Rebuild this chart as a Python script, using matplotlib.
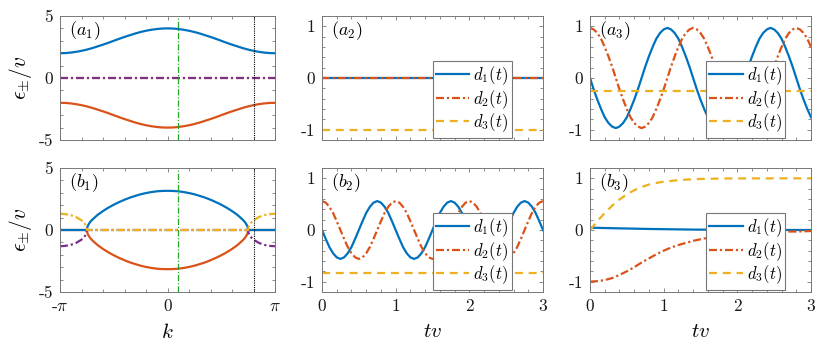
import numpy as np
import matplotlib
matplotlib.use("Agg")
import matplotlib.pyplot as plt
from matplotlib.ticker import MultipleLocator, FixedLocator, NullFormatter

plt.rcParams['font.family'] = ['cmr10', 'DejaVu Serif']
plt.rcParams['mathtext.fontset'] = 'cm'
plt.rcParams['axes.unicode_minus'] = False

# ---------------- data ----------------
# (a1) dispersion, k in units of pi
k_a = [-1.0, -0.95, -0.9, -0.85, -0.8, -0.75, -0.7, -0.65, -0.6, -0.55, -0.5, -0.45, -0.4, -0.35, -0.3,
       -0.25, -0.2, -0.15, -0.1, -0.05, 0.0, 0.05, 0.1, 0.15, 0.2, 0.25, 0.3, 0.35, 0.4, 0.45, 0.5,
       0.55, 0.6, 0.65, 0.7, 0.75, 0.8, 0.85, 0.9, 0.95, 1.0]
eps_plus_a = [2.00, 2.01, 2.05, 2.11, 2.19, 2.29, 2.41, 2.55, 2.69, 2.84, 3.00, 3.16, 3.31, 3.45, 3.59,
              3.71, 3.81, 3.89, 3.95, 3.99, 4.00, 3.99, 3.95, 3.89, 3.81, 3.71, 3.59, 3.45, 3.31, 3.16,
              3.00, 2.84, 2.69, 2.55, 2.41, 2.29, 2.19, 2.11, 2.05, 2.01, 2.00]
eps_minus_a = [-2.00, -2.01, -2.05, -2.11, -2.19, -2.29, -2.41, -2.55, -2.69, -2.84, -3.00, -3.16, -3.31,
               -3.45, -3.59, -3.71, -3.81, -3.89, -3.95, -3.99, -4.00, -3.99, -3.95, -3.89, -3.81, -3.71,
               -3.59, -3.45, -3.31, -3.16, -3.00, -2.84, -2.69, -2.55, -2.41, -2.29, -2.19, -2.11, -2.05,
               -2.01, -2.00]
im_a = [0.0] * 41

# (b1) dispersion with exceptional points, k in units of pi
k_b = [-1.0, -0.95, -0.9, -0.85, -0.8, -0.78, -0.77, -0.76, -0.755, -0.75, -0.745, -0.74, -0.73, -0.72,
       -0.7, -0.65, -0.6, -0.55, -0.5, -0.45, -0.4, -0.35, -0.3, -0.25, -0.2, -0.15, -0.1, -0.05, 0.0,
       0.05, 0.1, 0.15, 0.2, 0.25, 0.3, 0.35, 0.4, 0.45, 0.5, 0.55, 0.6, 0.65, 0.7, 0.72, 0.73, 0.74,
       0.745, 0.75, 0.755, 0.76, 0.77, 0.78, 0.8, 0.85, 0.9, 0.95, 1.0]
re_plus_b = [0, 0, 0, 0, 0, 0, 0, 0, 0, 0, 0.25, 0.36, 0.51, 0.64, 0.83, 1.22, 1.53, 1.80, 2.04, 2.25,
             2.44, 2.61, 2.75, 2.88, 2.98, 3.06, 3.12, 3.15, 3.16, 3.15, 3.12, 3.06, 2.98, 2.88, 2.75,
             2.61, 2.44, 2.25, 2.04, 1.80, 1.53, 1.22, 0.83, 0.64, 0.51, 0.36, 0.25, 0, 0, 0, 0, 0, 0,
             0, 0, 0, 0]
re_minus_b = [0, 0, 0, 0, 0, 0, 0, 0, 0, 0, -0.25, -0.36, -0.51, -0.64, -0.83, -1.22, -1.53, -1.80, -2.04,
              -2.25, -2.44, -2.61, -2.75, -2.88, -2.98, -3.06, -3.12, -3.15, -3.16, -3.15, -3.12, -3.06,
              -2.98, -2.88, -2.75, -2.61, -2.44, -2.25, -2.04, -1.80, -1.53, -1.22, -0.83, -0.64, -0.51,
              -0.36, -0.25, 0, 0, 0, 0, 0, 0, 0, 0, 0, 0]
im_plus_b = [1.31, 1.28, 1.20, 1.04, 0.78, 0.61, 0.51, 0.36, 0.26, 0, 0, 0, 0, 0, 0, 0, 0, 0, 0, 0, 0,
             0, 0, 0, 0, 0, 0, 0, 0, 0, 0, 0, 0, 0, 0, 0, 0, 0, 0, 0, 0, 0, 0, 0, 0, 0, 0, 0, 0.26,
             0.36, 0.51, 0.61, 0.78, 1.04, 1.20, 1.28, 1.31]
im_minus_b = [-1.31, -1.28, -1.20, -1.04, -0.78, -0.61, -0.51, -0.36, -0.26, 0, 0, 0, 0, 0, 0, 0, 0, 0,
              0, 0, 0, 0, 0, 0, 0, 0, 0, 0, 0, 0, 0, 0, 0, 0, 0, 0, 0, 0, 0, 0, 0, 0, 0, 0, 0, 0, 0, 0,
              -0.26, -0.36, -0.51, -0.61, -0.78, -1.04, -1.20, -1.28, -1.31]
k_marks = [0.1, 0.8]   # vertical markers (units of pi)

# time grid for oscillating panels
t_osc = [round(0.05 * i, 2) for i in range(61)]

# (a2)
t_a2 = [0, 3]
d1_a2 = [0, 0]
d2_a2 = [0, 0]
d3_a2 = [-1, -1]

# (a3)
d1_a3 = [0, -0.22, -0.42, -0.60, -0.76, -0.87, -0.94, -0.97, -0.94, -0.87, -0.76, -0.60, -0.42, -0.22,
         0, 0.22, 0.42, 0.60, 0.76, 0.87, 0.94, 0.97, 0.94, 0.87, 0.76, 0.60, 0.42, 0.22,
         0, -0.22, -0.42, -0.60, -0.76, -0.87, -0.94, -0.97, -0.94, -0.87, -0.76, -0.60, -0.42, -0.22,
         0, 0.22, 0.42, 0.60, 0.76, 0.87, 0.94, 0.97, 0.94, 0.87, 0.76, 0.60, 0.42, 0.22,
         0, -0.22, -0.42, -0.60, -0.76]
d2_a3 = [0.97, 0.94, 0.87, 0.76, 0.60, 0.42, 0.22, 0, -0.22, -0.42, -0.60, -0.76, -0.87, -0.94,
         -0.97, -0.94, -0.87, -0.76, -0.60, -0.42, -0.22, 0, 0.22, 0.42, 0.60, 0.76, 0.87, 0.94,
         0.97, 0.94, 0.87, 0.76, 0.60, 0.42, 0.22, 0, -0.22, -0.42, -0.60, -0.76, -0.87, -0.94,
         -0.97, -0.94, -0.87, -0.76, -0.60, -0.42, -0.22, 0, 0.22, 0.42, 0.60, 0.76, 0.87, 0.94,
         0.97, 0.94, 0.87, 0.76, 0.60]
t_a3c = [0, 3]
d3_a3 = [-0.25, -0.25]

# (b2)
d1_b2 = [0, -0.17, -0.33, -0.45, -0.53, -0.56, -0.53, -0.45, -0.33, -0.17,
         0, 0.17, 0.33, 0.45, 0.53, 0.56, 0.53, 0.45, 0.33, 0.17,
         0, -0.17, -0.33, -0.45, -0.53, -0.56, -0.53, -0.45, -0.33, -0.17,
         0, 0.17, 0.33, 0.45, 0.53, 0.56, 0.53, 0.45, 0.33, 0.17,
         0, -0.17, -0.33, -0.45, -0.53, -0.56, -0.53, -0.45, -0.33, -0.17,
         0, 0.17, 0.33, 0.45, 0.53, 0.56, 0.53, 0.45, 0.33, 0.17, 0]
d2_b2 = [0.56, 0.53, 0.45, 0.33, 0.17, 0, -0.17, -0.33, -0.45, -0.53,
         -0.56, -0.53, -0.45, -0.33, -0.17, 0, 0.17, 0.33, 0.45, 0.53,
         0.56, 0.53, 0.45, 0.33, 0.17, 0, -0.17, -0.33, -0.45, -0.53,
         -0.56, -0.53, -0.45, -0.33, -0.17, 0, 0.17, 0.33, 0.45, 0.53,
         0.56, 0.53, 0.45, 0.33, 0.17, 0, -0.17, -0.33, -0.45, -0.53,
         -0.56, -0.53, -0.45, -0.33, -0.17, 0, 0.17, 0.33, 0.45, 0.53, 0.56]
t_b2c = [0, 3]
d3_b2 = [-0.83, -0.83]

# (b3)
t_b3 = [0, 0.1, 0.2, 0.3, 0.4, 0.5, 0.6, 0.7, 0.8, 0.9, 1.0, 1.1, 1.2, 1.3, 1.4, 1.5, 1.6, 1.7, 1.8,
        1.9, 2.0, 2.2, 2.4, 2.6, 2.8, 3.0]
d1_b3 = [0.045, 0.042, 0.038, 0.035, 0.032, 0.029, 0.026, 0.023, 0.020, 0.018, 0.016, 0.014, 0.012,
         0.010, 0.008, 0.007, 0.006, 0.005, 0.004, 0.003, 0.003, 0.002, 0.001, 0.001, 0.0, 0.0]
d2_b3 = [-1.0, -0.99, -0.97, -0.93, -0.87, -0.80, -0.72, -0.63, -0.55, -0.47, -0.40, -0.34, -0.29,
         -0.25, -0.21, -0.18, -0.15, -0.12, -0.10, -0.08, -0.07, -0.05, -0.04, -0.03, -0.03, -0.02]
d3_b3 = [0, 0.17, 0.33, 0.47, 0.59, 0.69, 0.77, 0.83, 0.88, 0.91, 0.935, 0.95, 0.965, 0.975, 0.983,
         0.988, 0.991, 0.994, 0.996, 0.997, 0.998, 0.999, 0.999, 1.0, 1.0, 1.0]

legend_labels = [r'$d_1(t)$', r'$d_2(t)$', r'$d_3(t)$']
panel_labels = [r'$(a_1)$', r'$(a_2)$', r'$(a_3)$', r'$(b_1)$', r'$(b_2)$', r'$(b_3)$']

# ---------------- style ----------------
BLUE = '#0072BD'
RED = '#D95319'
YEL = '#EDB120'
PUR = '#7E2F8E'
GRN = '#22aa22'
LW = 1.6
DASHDOT = (0, (3.6, 1.3, 1.0, 1.3))
DASHED = (0, (3.6, 2.6))
FRAME = '#777777'
TICKFS = 12.5

fig = plt.figure(figsize=(8.17, 3.46), dpi=100)
W, H = 817.0, 346.0


def add_ax(x0, y0, x1, y1):
    return fig.add_axes([x0 / W, 1 - y1 / H, (x1 - x0) / W, (y1 - y0) / H])


axes = [add_ax(60, 16, 275, 140), add_ax(322, 16, 543, 140), add_ax(590, 16, 811, 140),
        add_ax(60, 168, 275, 292), add_ax(322, 168, 543, 292), add_ax(590, 168, 811, 292)]


def style(ax, bottom):
    for s in ax.spines.values():
        s.set_color(FRAME)
        s.set_linewidth(0.7)
    ax.tick_params(which='both', direction='in', top=True, right=True, color=FRAME,
                   width=0.6, labelsize=TICKFS, labelcolor='#1a1a1a')
    ax.tick_params(which='major', length=3.2, pad=5)
    ax.tick_params(which='minor', length=2.2)
    if not bottom:
        ax.xaxis.set_major_formatter(NullFormatter())


def style_k(ax, bottom):
    ax.set_xlim(-np.pi, np.pi)
    ax.set_ylim(-5, 5)
    ax.xaxis.set_major_locator(FixedLocator([-np.pi, 0, np.pi]))
    ax.xaxis.set_minor_locator(MultipleLocator(np.pi / 5))
    ax.yaxis.set_major_locator(FixedLocator([-5, 0, 5]))
    ax.yaxis.set_minor_locator(MultipleLocator(1))
    ax.set_yticklabels(['-5', '0', '5'])
    if bottom:
        ax.set_xticklabels([r'-$\pi$', '0', r'$\pi$'])
    style(ax, bottom)
    ax.set_ylabel(r'$\epsilon_{\pm}/v$', fontsize=15.5)
    ax.yaxis.set_label_coords(-0.12, 0.5)


def style_t(ax, bottom):
    ax.set_xlim(0, 3)
    ax.set_ylim(-1.2, 1.2)
    ax.xaxis.set_major_locator(FixedLocator([0, 1, 2, 3]))
    ax.xaxis.set_minor_locator(MultipleLocator(0.2))
    ax.yaxis.set_major_locator(FixedLocator([-1, 0, 1]))
    ax.yaxis.set_minor_locator(MultipleLocator(0.2))
    ax.set_yticklabels(['-1', '0', '1'])
    if bottom:
        ax.set_xticklabels(['0', '1', '2', '3'])
    style(ax, bottom)


def legend(ax, x0):
    leg = ax.legend(legend_labels, loc='lower left', bbox_to_anchor=(x0, 0.02), fontsize=12,
                    handlelength=2.0, handletextpad=0.25, labelspacing=0.05, borderpad=0.2,
                    borderaxespad=0.0, fancybox=False, framealpha=1, edgecolor='#777777')
    leg.get_frame().set_linewidth(0.8)


def panel(ax, i):
    ax.text(0.04, 0.88, panel_labels[i], transform=ax.transAxes, fontsize=13, va='center', ha='left')


# (a1)
ax = axes[0]
ka = np.pi * np.array(k_a)
ax.plot(ka, eps_plus_a, color=BLUE, lw=LW)
ax.plot(ka, eps_minus_a, color=RED, lw=LW)
ax.plot(ka, im_a, color=YEL, lw=LW, ls=DASHDOT)
ax.plot(ka, im_a, color=PUR, lw=LW, ls=DASHDOT)
ax.axvline(np.pi * k_marks[0], color=GRN, lw=0.9, ls=(0, (5, 1.5, 1, 1.5)))
ax.axvline(np.pi * k_marks[1], color='k', lw=0.8, ls=(0, (1, 1)))
style_k(ax, False)
panel(ax, 0)

# (b1)
ax = axes[3]
kb = np.pi * np.array(k_b)
ax.plot(kb, re_minus_b, color=RED, lw=LW)
ax.plot(kb, re_plus_b, color=BLUE, lw=LW)
ax.plot(kb, im_minus_b, color=PUR, lw=LW, ls=DASHDOT)
ax.plot(kb, im_plus_b, color=YEL, lw=LW, ls=DASHDOT)
ax.axvline(np.pi * k_marks[0], color=GRN, lw=0.9, ls=(0, (5, 1.5, 1, 1.5)))
ax.axvline(np.pi * k_marks[1], color='k', lw=0.8, ls=(0, (1, 1)))
style_k(ax, True)
ax.set_xlabel(r'$k$', fontsize=15, labelpad=6)
panel(ax, 3)

# (a2)
ax = axes[1]
ax.plot(t_a2, d1_a2, color=BLUE, lw=LW)
ax.plot(t_a2, d2_a2, color=RED, lw=LW, ls=DASHDOT)
ax.plot(t_a2, d3_a2, color=YEL, lw=LW, ls=DASHED)
style_t(ax, False)
legend(ax, 0.50)
panel(ax, 1)

# (a3)
ax = axes[2]
ax.plot(t_osc, d1_a3, color=BLUE, lw=LW)
ax.plot(t_osc, d2_a3, color=RED, lw=LW, ls=DASHDOT)
ax.plot(t_a3c, d3_a3, color=YEL, lw=LW, ls=DASHED)
style_t(ax, False)
legend(ax, 0.525)
panel(ax, 2)

# (b2)
ax = axes[4]
ax.plot(t_osc, d1_b2, color=BLUE, lw=LW)
ax.plot(t_osc, d2_b2, color=RED, lw=LW, ls=DASHDOT)
ax.plot(t_b2c, d3_b2, color=YEL, lw=LW, ls=DASHED)
style_t(ax, True)
ax.set_xlabel(r'$tv$', fontsize=15, labelpad=6)
legend(ax, 0.50)
panel(ax, 4)

# (b3)
ax = axes[5]
ax.plot(t_b3, d1_b3, color=BLUE, lw=LW)
ax.plot(t_b3, d2_b3, color=RED, lw=LW, ls=DASHDOT)
ax.plot(t_b3, d3_b3, color=YEL, lw=LW, ls=DASHED)
style_t(ax, True)
ax.set_xlabel(r'$tv$', fontsize=15, labelpad=6)
legend(ax, 0.525)
panel(ax, 5)

fig.savefig('out.png', dpi=100)
